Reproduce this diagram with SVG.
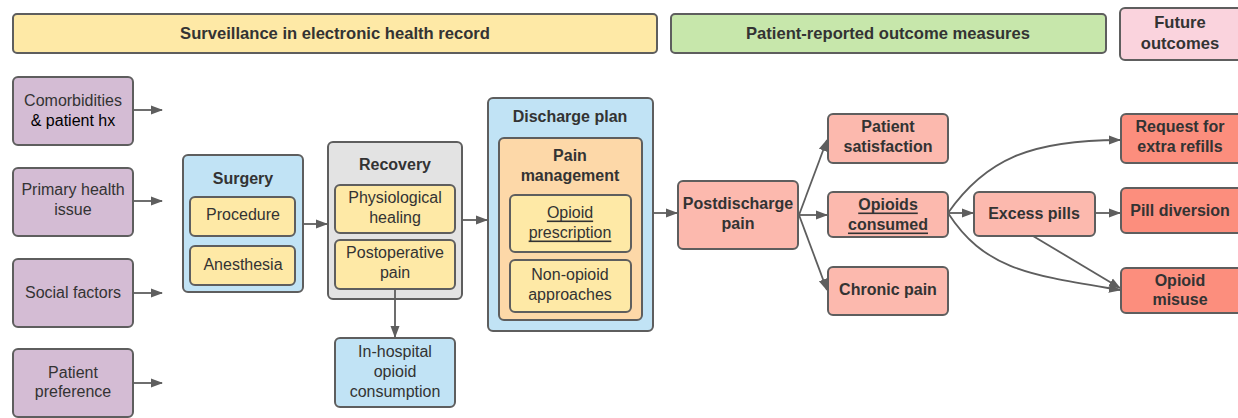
<svg xmlns="http://www.w3.org/2000/svg" width="1238" height="418" viewBox="0 0 1238 418">
<defs>
<marker id="ah" markerWidth="12" markerHeight="10" refX="11" refY="5" orient="auto" markerUnits="userSpaceOnUse">
<path d="M0,0.5 L12,5 L0,9.5 Z" fill="#5e5e5e"/>
</marker>
<style>
rect{stroke:#5e5e5e;stroke-width:2}
text{font-family:"Liberation Sans",Arial,sans-serif;font-size:16px;fill:#333;text-anchor:middle;dominant-baseline:central}
.b{font-weight:bold}
.bn{font-weight:bold;font-size:16.6px}
.u{text-decoration:underline}
.yel{fill:#fee9a6}
.grn{fill:#c7e7ab}
.pnk{fill:#fad3dd}
.pur{fill:#d4bcd4}
.blu{fill:#c1e3f5}
.gry{fill:#e3e3e3}
.org{fill:#fdd8a8}
.sal{fill:#fcb9ae}
.red{fill:#fc8e7d}
#connectors path{fill:none;stroke:#5e5e5e;stroke-width:1.8;marker-end:url(#ah)}
</style>
</defs>
<rect width="1238" height="418" fill="#ffffff" style="stroke:none"/>
<g id="banner-ehr"><rect class="yel" x="13" y="14" width="644" height="39" rx="4"/><text class="bn" x="335" y="33">Surveillance in electronic health record</text></g>
<g id="banner-prom"><rect class="grn" x="671" y="14" width="435" height="39" rx="4"/><text class="bn" x="888" y="33">Patient-reported outcome measures</text></g>
<g id="banner-future"><rect class="pnk" x="1120" y="8" width="122" height="52" rx="5"/><text class="bn" x="1180" y="22">Future</text><text class="bn" x="1180" y="43">outcomes</text></g>

<g id="comorbidities"><rect class="pur" x="13" y="77" width="120" height="68" rx="5"/><text x="73" y="100">Comorbidities</text><text x="73" y="120" style="fill:#000">&amp; patient hx</text></g>
<g id="primary"><rect class="pur" x="13" y="168" width="120" height="68" rx="5"/><text x="73" y="189">Primary health</text><text x="73" y="209">issue</text></g>
<g id="social"><rect class="pur" x="13" y="259" width="120" height="68" rx="5"/><text x="73" y="292">Social factors</text></g>
<g id="preference"><rect class="pur" x="13" y="349" width="120" height="68" rx="5"/><text x="73" y="372">Patient</text><text x="73" y="391">preference</text></g>

<g id="surgery"><rect class="blu" x="183" y="155" width="120" height="137" rx="5"/><text class="b" x="243" y="178">Surgery</text>
<rect class="yel" x="190" y="197" width="105" height="39" rx="5"/><text x="243" y="214">Procedure</text>
<rect class="yel" x="190" y="246" width="105" height="39" rx="5"/><text x="243" y="264">Anesthesia</text></g>

<g id="recovery"><rect class="gry" x="328" y="142" width="134" height="157" rx="5"/><text class="b" x="395" y="164">Recovery</text>
<rect class="yel" x="335" y="185" width="120" height="48" rx="5"/><text x="395" y="197">Physiological</text><text x="395" y="217">healing</text>
<rect class="yel" x="335" y="240" width="120" height="49" rx="5"/><text x="395" y="252">Postoperative</text><text x="395" y="272">pain</text></g>

<g id="inhospital"><rect class="blu" x="335" y="338" width="120" height="69" rx="5"/><text x="395" y="351">In-hospital</text><text x="395" y="371">opioid</text><text x="395" y="391">consumption</text></g>

<g id="discharge"><rect class="blu" x="488" y="98" width="165" height="233" rx="5"/><text class="b" x="570" y="116">Discharge plan</text>
<rect class="org" x="499" y="138" width="143" height="182" rx="5"/><text class="b" x="570" y="155">Pain</text><text class="b" x="570" y="175">management</text>
<rect class="yel" x="510" y="195" width="121" height="57" rx="5"/><text class="u" x="570" y="212">Opioid</text><text class="u" x="570" y="232">prescription</text>
<rect class="yel" x="510" y="260" width="121" height="52" rx="5"/><text x="570" y="274">Non-opioid</text><text x="570" y="294">approaches</text></g>

<g id="postdischarge"><rect class="sal" x="678" y="181" width="120" height="68" rx="5"/><text class="b" x="738" y="203">Postdischarge</text><text class="b" x="738" y="223">pain</text></g>
<g id="satisfaction"><rect class="sal" x="828" y="114" width="120" height="49" rx="5"/><text class="b" x="888" y="126">Patient</text><text class="b" x="888" y="146">satisfaction</text></g>
<g id="consumed"><rect class="sal" x="828" y="192" width="120" height="45" rx="5"/><text class="b u" x="888" y="204">Opioids</text><text class="b u" x="888" y="224">consumed</text></g>
<g id="chronic"><rect class="sal" x="828" y="267" width="120" height="48" rx="5"/><text class="b" x="888" y="289">Chronic pain</text></g>
<g id="excess"><rect class="sal" x="974" y="192" width="121" height="44" rx="5"/><text class="b" x="1034" y="213">Excess pills</text></g>
<g id="refills"><rect class="red" x="1121" y="114" width="121" height="49" rx="5"/><text class="b" x="1180" y="126">Request for</text><text class="b" x="1180" y="146">extra refills</text></g>
<g id="diversion"><rect class="red" x="1121" y="188" width="121" height="45" rx="5"/><text class="b" x="1180" y="210">Pill diversion</text></g>
<g id="misuse"><rect class="red" x="1121" y="268" width="121" height="45" rx="5"/><text class="b" x="1180" y="280">Opioid</text><text class="b" x="1180" y="299">misuse</text></g>

<g id="connectors">
<path d="M133,110 H162"/>
<path d="M133,201 H162"/>
<path d="M133,293 H162"/>
<path d="M133,383 H162"/>
<path d="M303,224 H327"/>
<path d="M462,220 H487"/>
<path d="M395,289 V337"/>
<path d="M653,213 H677"/>
<path d="M799,215 L827,140"/>
<path d="M799,215 H827"/>
<path d="M799,215 L827,290"/>
<path d="M948,213 H973"/>
<path d="M948,213 C985,160 1030,140 1120,140"/>
<path d="M948,213 C985,270 1030,275 1120,290"/>
<path d="M1033,236 L1120,288"/>
<path d="M1095,213 H1120"/>
</g>
</svg>
